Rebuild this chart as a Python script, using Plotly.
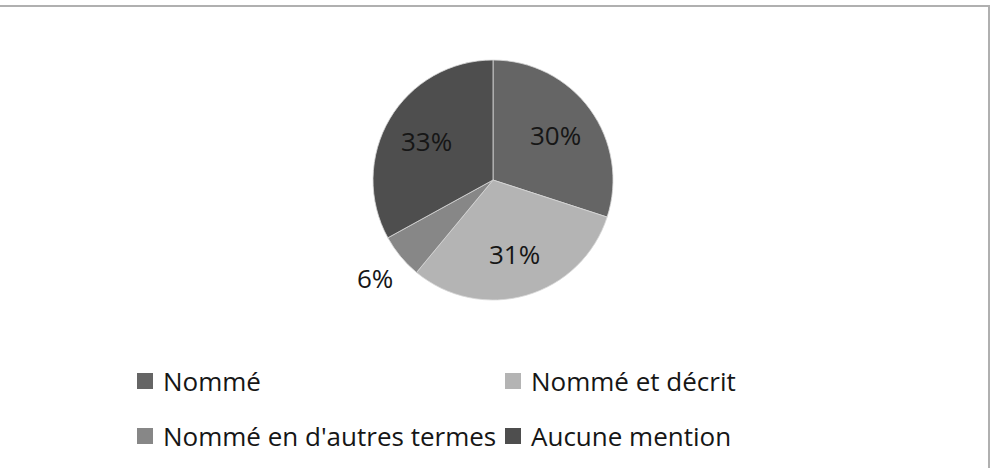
import math
import plotly.graph_objects as go

labels = ["Nommé", "Nommé et décrit", "Nommé en d'autres termes", "Aucune mention"]
values = [30, 31, 6, 33]
colors = ["#656565", "#b4b4b4", "#878787", "#4e4e4e"]
label_outside = [False, False, True, False]

W, H = 997, 468
FONT = "Open Sans"
TXT = "#161616"

def px(x):
    return x / W

def py(y):
    return 1 - y / H

# pie geometry (pixels)
CX, CY, R = 493, 180, 120

fig = go.Figure(go.Pie(
    labels=labels,
    values=values,
    sort=False,
    direction="clockwise",
    rotation=0,
    marker=dict(colors=colors, line=dict(color="#d8d8d8", width=0.8)),
    textinfo="none",
    domain=dict(x=[px(CX - R), px(CX + R)], y=[py(CY + R), py(CY - R)]),
    showlegend=False,
    hoverinfo="label+percent",
))

# data labels placed along each slice's mid angle (computed from the values)
total = sum(values)
cum = 0
for v, outside in zip(values, label_outside):
    mid = (cum + v / 2) / total * 2 * math.pi
    cum += v
    rf = 1.28 if outside else 0.64
    lx = CX + rf * R * math.sin(mid)
    ly = CY - rf * R * math.cos(mid)
    fig.add_annotation(xref="paper", yref="paper", x=px(lx), y=py(ly),
                       text=f"{round(100 * v / total)}%", showarrow=False,
                       xanchor="center", yanchor="middle",
                       font=dict(family=FONT, size=26, color=TXT))

# frame of the chart area
fig.add_shape(type="rect", xref="paper", yref="paper",
              x0=px(-20), x1=px(989), y0=py(490), y1=py(6),
              line=dict(color="#b0b0b0", width=2), fillcolor="rgba(0,0,0,0)")

# legend, two columns x two rows, built from the lists
col_x = [137, 505]
row_y = [381, 436]
sq = 16
for i, (lab, col) in enumerate(zip(labels, colors)):
    cx = col_x[i % 2]
    cy = row_y[i // 2]
    fig.add_shape(type="rect", xref="paper", yref="paper",
                  x0=px(cx), x1=px(cx + sq), y0=py(cy + sq / 2), y1=py(cy - sq / 2),
                  line=dict(width=0), fillcolor=col)
    fig.add_annotation(xref="paper", yref="paper", x=px(cx + sq + 8), y=py(cy),
                       text=lab, showarrow=False, xanchor="left", yanchor="middle",
                       font=dict(family=FONT, size=26, color=TXT))

fig.update_layout(
    width=W, height=H,
    margin=dict(l=0, r=0, t=0, b=0),
    paper_bgcolor="white",
    plot_bgcolor="white",
)

fig.write_html("out.html")
